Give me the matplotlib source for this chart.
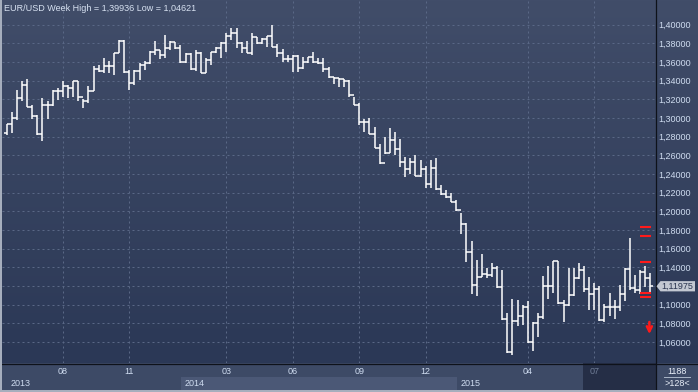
import matplotlib
matplotlib.use('Agg')
import matplotlib.pyplot as plt
import matplotlib.transforms as mtransforms
from matplotlib.patches import Rectangle, Polygon
import numpy as np

plt.rcParams['font.family'] = ['Liberation Sans', 'DejaVu Sans']

W, H = 698, 392

# EUR/USD weekly bars, oldest first
opens = [1.2839, 1.2939, 1.3000, 1.3211, 1.3350, 1.3118, 1.3018, 1.2832, 1.3143, 1.3140,
         1.3286, 1.3293, 1.3339, 1.3321, 1.3393, 1.3225, 1.3179, 1.3293, 1.3525, 1.3500,
         1.3561, 1.3555, 1.3696, 1.3821, 1.3489, 1.3375, 1.3500, 1.3571, 1.3589, 1.3707,
         1.3732, 1.3679, 1.3750, 1.3811, 1.3750, 1.3596, 1.3686, 1.3525, 1.3696, 1.3486,
         1.3622, 1.3704, 1.3747, 1.3800, 1.3879, 1.3915, 1.3800, 1.3747, 1.3700, 1.3872,
         1.3800, 1.3843, 1.3879, 1.3765, 1.3693, 1.3629, 1.3633, 1.3668, 1.3532, 1.3597,
         1.3650, 1.3604, 1.3593, 1.3522, 1.3436, 1.3425, 1.3415, 1.3400, 1.3243, 1.3140,
         1.2954, 1.2961, 1.2829, 1.2683, 1.2515, 1.2622, 1.2765, 1.2668, 1.2533, 1.2454,
         1.2525, 1.2383, 1.2454, 1.2290, 1.2461, 1.2236, 1.2183, 1.2150, 1.2104, 1.2010,
         1.1860, 1.1561, 1.1211, 1.1300, 1.1325, 1.1318, 1.1397, 1.1186, 1.0843, 1.0490,
         1.0825, 1.0883, 1.0972, 1.0597, 1.0808, 1.0865, 1.1200, 1.1205, 1.1468, 1.1015,
         1.0997, 1.1104, 1.1282, 1.1372, 1.1165, 1.1111, 1.1165, 1.0836, 1.0980, 1.0980,
         1.0975, 1.1110, 1.1385, 1.1180, 1.1155, 1.1345, 1.1285]
highs = [1.2939, 1.3064, 1.3304, 1.3393, 1.3418, 1.3143, 1.3036, 1.3214, 1.3179, 1.3304,
         1.3321, 1.3400, 1.3357, 1.3400, 1.3400, 1.3204, 1.3339, 1.3554, 1.3571, 1.3643,
         1.3607, 1.3696, 1.3839, 1.3832, 1.3518, 1.3518, 1.3589, 1.3607, 1.3714, 1.3821,
         1.3732, 1.3893, 1.3821, 1.3811, 1.3786, 1.3696, 1.3696, 1.3732, 1.3711, 1.3640,
         1.3711, 1.3765, 1.3818, 1.3915, 1.3964, 1.3960, 1.3818, 1.3829, 1.3907, 1.3872,
         1.3854, 1.3879, 1.39936, 1.3790, 1.3736, 1.3675, 1.3675, 1.3675, 1.3657, 1.3657,
         1.3704, 1.3640, 1.3640, 1.3550, 1.3445, 1.3430, 1.3415, 1.3405, 1.3222, 1.3157,
         1.2986, 1.2997, 1.2907, 1.2722, 1.2793, 1.2890, 1.2854, 1.2775, 1.2586, 1.2568,
         1.2604, 1.2550, 1.2486, 1.2550, 1.2568, 1.2283, 1.2229, 1.2200, 1.2122, 1.1979,
         1.1872, 1.1682, 1.1479, 1.1543, 1.1397, 1.1450, 1.1415, 1.1372, 1.0907, 1.1060,
         1.1050, 1.0997, 1.1043, 1.0818, 1.0907, 1.1311, 1.1415, 1.1472, 1.1468, 1.1050,
         1.1397, 1.1397, 1.1450, 1.1415, 1.1300, 1.1229, 1.1200, 1.1010, 1.1130, 1.1045,
         1.1215, 1.1390, 1.1714, 1.1320, 1.1370, 1.1410, 1.1336]
lows = [1.2821, 1.2839, 1.2982, 1.3179, 1.3118, 1.2993, 1.2821, 1.2755, 1.2993, 1.3125,
        1.3196, 1.3225, 1.3214, 1.3225, 1.3179, 1.3107, 1.3161, 1.3293, 1.3495, 1.3482,
        1.3482, 1.3464, 1.3696, 1.3480, 1.3304, 1.3357, 1.3404, 1.3511, 1.3582, 1.3679,
        1.3636, 1.3643, 1.3732, 1.3745, 1.3589, 1.3589, 1.3511, 1.3500, 1.3479, 1.3479,
        1.3568, 1.3693, 1.3640, 1.3711, 1.3836, 1.3747, 1.3693, 1.3693, 1.3675, 1.3790,
        1.3790, 1.3765, 1.3760, 1.3650, 1.3604, 1.3597, 1.3497, 1.3497, 1.3522, 1.3586,
        1.3586, 1.3579, 1.3497, 1.3425, 1.3368, 1.3329, 1.3336, 1.3225, 1.3135, 1.2925,
        1.2854, 1.2825, 1.2675, 1.2507, 1.2615, 1.2622, 1.2604, 1.2479, 1.2365, 1.2397,
        1.2378, 1.2365, 1.2247, 1.2247, 1.2229, 1.2175, 1.2145, 1.2097, 1.2000, 1.1754,
        1.1461, 1.1115, 1.1097, 1.1295, 1.1290, 1.1300, 1.1180, 1.0840, 1.0480, 1.04621,
        1.0772, 1.0783, 1.0586, 1.0507, 1.0657, 1.0847, 1.1057, 1.1129, 1.1008, 1.0818,
        1.0986, 1.1093, 1.1275, 1.1140, 1.0943, 1.0943, 1.0825, 1.0810, 1.0880, 1.0850,
        1.0930, 1.1040, 1.1160, 1.1130, 1.1110, 1.1190, 1.1120]
closes = [1.2939, 1.3000, 1.3211, 1.3350, 1.3118, 1.3018, 1.2832, 1.3143, 1.3140, 1.3286,
          1.3293, 1.3339, 1.3321, 1.3393, 1.3225, 1.3179, 1.3293, 1.3525, 1.3500, 1.3561,
          1.3555, 1.3696, 1.3821, 1.3489, 1.3375, 1.3500, 1.3571, 1.3589, 1.3707, 1.3732,
          1.3679, 1.3750, 1.3811, 1.3750, 1.3596, 1.3686, 1.3525, 1.3696, 1.3486, 1.3622,
          1.3704, 1.3747, 1.3800, 1.3879, 1.3915, 1.3800, 1.3747, 1.3700, 1.3872, 1.3800,
          1.3843, 1.3879, 1.3765, 1.3693, 1.3629, 1.3633, 1.3668, 1.3532, 1.3597, 1.3650,
          1.3604, 1.3593, 1.3522, 1.3436, 1.3425, 1.3415, 1.3400, 1.3243, 1.3140, 1.2954,
          1.2961, 1.2829, 1.2683, 1.2515, 1.2622, 1.2765, 1.2668, 1.2533, 1.2454, 1.2525,
          1.2383, 1.2454, 1.2290, 1.2461, 1.2236, 1.2183, 1.2150, 1.2104, 1.2010, 1.1860,
          1.1561, 1.1211, 1.1300, 1.1325, 1.1318, 1.1397, 1.1186, 1.0843, 1.0490, 1.0825,
          1.0883, 1.0972, 1.0597, 1.0808, 1.0865, 1.1200, 1.1205, 1.1468, 1.1015, 1.0997,
          1.1104, 1.1282, 1.1372, 1.1165, 1.1111, 1.1165, 1.0836, 1.0980, 1.0980, 1.0975,
          1.1110, 1.1385, 1.1180, 1.1155, 1.1345, 1.1285, 1.11975]

price_ticks = [1.06, 1.08, 1.10, 1.12, 1.14, 1.16, 1.18, 1.20, 1.22, 1.24,
               1.26, 1.28, 1.30, 1.32, 1.34, 1.36, 1.38, 1.40]
month_ticks = [11, 24, 43, 56, 69, 82, 102, 115]
month_labels = ['08', '11', '03', '06', '09', '12', '04', '07']
year_starts = [0.1, 34.1, 88.1]
year_labels = ['2013', '2014', '2015']
future_start = 112.8
alert_levels = [1.1829, 1.1736, 1.1454, 1.1129, 1.1079]
last_price = 1.11975
title = 'EUR/USD Week High = 1,39936 Low = 1,04621'

txt_col = '#cfdcf0'
fs = 6.5

fig = plt.figure(figsize=(W / 100, H / 100), dpi=100)
fig.patch.set_facecolor('#3d4a66')

# pixel-space background layer
bg = fig.add_axes([0, 0, 1, 1])
bg.axis('off')
top = np.array([0x41, 0x4d, 0x69]) / 255
bot = np.array([0x2b, 0x38, 0x56]) / 255
t = np.linspace(0, 1, 200)[:, None]
grad = (top * (1 - t) + bot * t)[:, None, :]
bg.imshow(grad, extent=(0, W, 363, 0), aspect='auto', interpolation='bilinear')
bg.set_xlim(0, W)
bg.set_ylim(H, 0)

ax = fig.add_axes([2 / W, 29 / H, 653.5 / W, 363 / H])
ax.set_facecolor('none')
for s in ax.spines.values():
    s.set_visible(False)
ax.set_xlim(-0.92, 127.0)
ax.set_ylim(1.03752, 1.42647)

x = np.arange(len(closes))
ax.vlines(x, lows, highs, color='white', lw=1.1, zorder=3)
ax.hlines(opens, x - 0.5, x, color='white', lw=1.1, zorder=3)
ax.hlines(closes, x, x + 0.5, color='white', lw=1.1, zorder=3)

# grid and axis labels; the 1,12000 label sits under the last-price box
ylabels = [f'{p:.5f}'.replace('.', ',') for p in price_ticks]
ylabels[price_ticks.index(1.12)] = ''
ax.set_yticks(price_ticks, ylabels)
ax.set_xticks(month_ticks, month_labels)
ax.grid(True, color='#5a6886', lw=0.72, linestyle=(0, (2, 3)), zorder=1)
ax.yaxis.tick_right()
ax.tick_params(axis='y', length=0, pad=2.3, labelsize=fs, labelcolor=txt_col)
ax.tick_params(axis='x', length=0, pad=2.6, labelsize=fs, labelcolor=txt_col)
ax.get_xticklabels()[-1].set_color('#6f7c95')

# alerts and signal
ax.hlines(alert_levels, 123.95, 126.1, color='#ff1a1a', lw=1.5, zorder=4)
ax.annotate('', xy=(125.8, 1.0685), xytext=(125.8, 1.0815),
            arrowprops=dict(arrowstyle='->', color='#ff1a1a', lw=1.8,
                            mutation_scale=9, shrinkA=0, shrinkB=0), zorder=4)

# bottom time axis panels
xb = mtransforms.blended_transform_factory(ax.transData, bg.transData)
bg.add_patch(Rectangle((year_starts[1], 376.5), year_starts[2] - year_starts[1], 13,
                       transform=xb, color='#4b5876', lw=0, zorder=2))
bg.add_patch(Rectangle((future_start, 363), 127.0 - future_start, 26.5,
                       transform=xb, color='#252e46', lw=0, zorder=2))
for start, lab in zip(year_starts, year_labels):
    bg.text(start + 0.75, 383, lab, transform=xb, color=txt_col, fontsize=fs,
            ha='left', va='center', zorder=5)

# frame lines
bg.plot([0, W], [363.5, 363.5], color='#0e121a', lw=0.9, zorder=6)
bg.plot([655.5, 655.5], [0, 389.5], color='#0e121a', lw=0.9, zorder=6)
bg.add_patch(Rectangle((0, 0), 2, H, color='#a6aebd', lw=0, zorder=7))
bg.add_patch(Rectangle((0, 389.5), W, 2.5, color='#a6aebd', lw=0, zorder=7))

# corner counter
bg.text(677, 371, '1188', color='#e8eef8', fontsize=fs, ha='center', va='center', zorder=5)
bg.plot([664, 690], [377, 377], color='#aab6c8', lw=0.7, zorder=5)
bg.text(677, 383, '>128<', color='#e8eef8', fontsize=fs, ha='center', va='center', zorder=5)

# last price label
py = mtransforms.blended_transform_factory(bg.transData, ax.transData)
hh = 0.0055
bg.add_patch(Polygon([(656.5, last_price), (660.5, last_price + hh), (695, last_price + hh),
                      (695, last_price - hh), (660.5, last_price - hh)],
                     closed=True, transform=py, color='#c3c8d2', lw=0, zorder=8))
bg.text(677.5, last_price, '1,11975', transform=py, color='#2a3550', fontsize=fs,
        ha='center', va='center', zorder=9)

fig.text(4 / W, 1 - 8.3 / H, title, color='#d8e2f2', fontsize=fs, ha='left', va='center')

fig.savefig('out.png', dpi=100, facecolor=fig.get_facecolor())
plt.close(fig)
